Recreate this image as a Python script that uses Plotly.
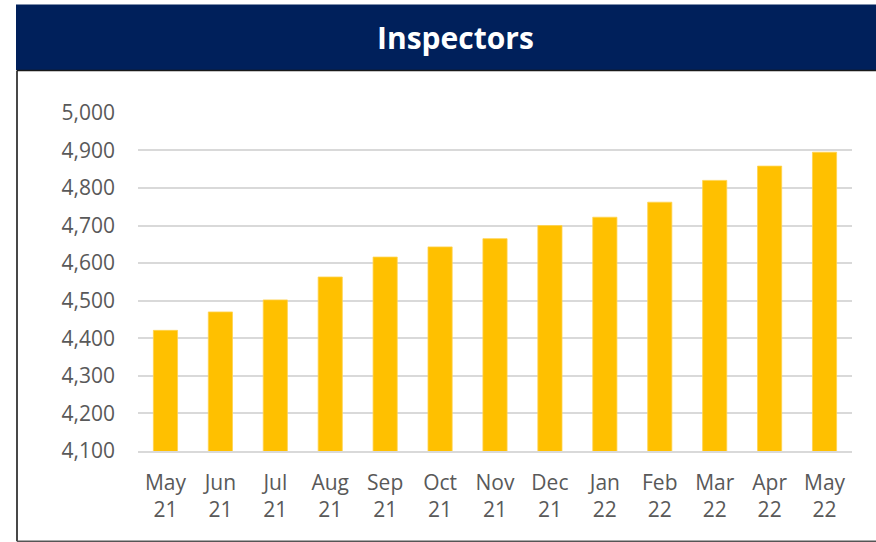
import plotly.graph_objects as go

months = ["May<br>21", "Jun<br>21", "Jul<br>21", "Aug<br>21", "Sep<br>21", "Oct<br>21",
          "Nov<br>21", "Dec<br>21", "Jan<br>22", "Feb<br>22", "Mar<br>22", "Apr<br>22", "May<br>22"]
inspectors = [4421, 4470, 4502, 4563, 4616, 4643, 4665, 4700, 4722, 4762, 4820, 4858, 4895]
y_ticks = [4100, 4200, 4300, 4400, 4500, 4600, 4700, 4800, 4900, 5000]
title_text = "Inspectors"

FW, FH = 876, 542
L, R, T, B = 138, 852, 111.5, 450.7
PW, PH = R - L, B - T

def px(x):
    return (x - L) / PW

def py(y):
    return (B - y) / PH

fig = go.Figure(go.Bar(
    x=months, y=inspectors,
    marker=dict(color="#FFC000", line=dict(color="#FFD34F", width=0.8)),
    width=0.44,
))

shapes = [
    dict(type="rect", xref="paper", yref="paper", x0=px(16), x1=px(880), y0=py(69.5), y1=py(4),
         fillcolor="#00205B", line=dict(width=0), layer="below"),
    dict(type="line", xref="paper", yref="paper", x0=px(17), x1=px(880), y0=py(70), y1=py(70),
         line=dict(color="#1a1a1a", width=1.6)),
    dict(type="line", xref="paper", yref="paper", x0=px(17), x1=px(17), y0=py(70), y1=py(541),
         line=dict(color="#1a1a1a", width=1.6)),
    dict(type="line", xref="paper", yref="paper", x0=px(17), x1=px(880), y0=py(541), y1=py(541),
         line=dict(color="#555555", width=1.6)),
]

fig.update_layout(
    width=FW, height=FH,
    margin=dict(l=L, r=FW - R, t=T, b=FH - B),
    paper_bgcolor="white", plot_bgcolor="white",
    showlegend=False,
    shapes=shapes,
    font=dict(family="Open Sans", color="#595959", size=21),
    annotations=[dict(text="<b>" + title_text + "</b>", xref="paper", yref="paper",
                      x=px(455), y=py(37), xanchor="center", yanchor="middle",
                      showarrow=False, font=dict(family="Open Sans", size=30, color="white"))],
    bargap=0.56,
)
fig.update_yaxes(range=[4100, 5002], tickvals=y_ticks, tickformat=",d",
                 showgrid=True, gridcolor="#D9D9D9", gridwidth=1.5, zeroline=False,
                 showline=False, ticks="", ticklabelstandoff=22)
fig.update_xaxes(showline=True, linecolor="#D9D9D9", linewidth=1.5, ticks="",
                 ticklabelstandoff=12, tickangle=0)

fig.write_html("out.html", config={"displayModeBar": False},
               post_script="document.body.style.margin='0';document.body.style.overflow='hidden';")
